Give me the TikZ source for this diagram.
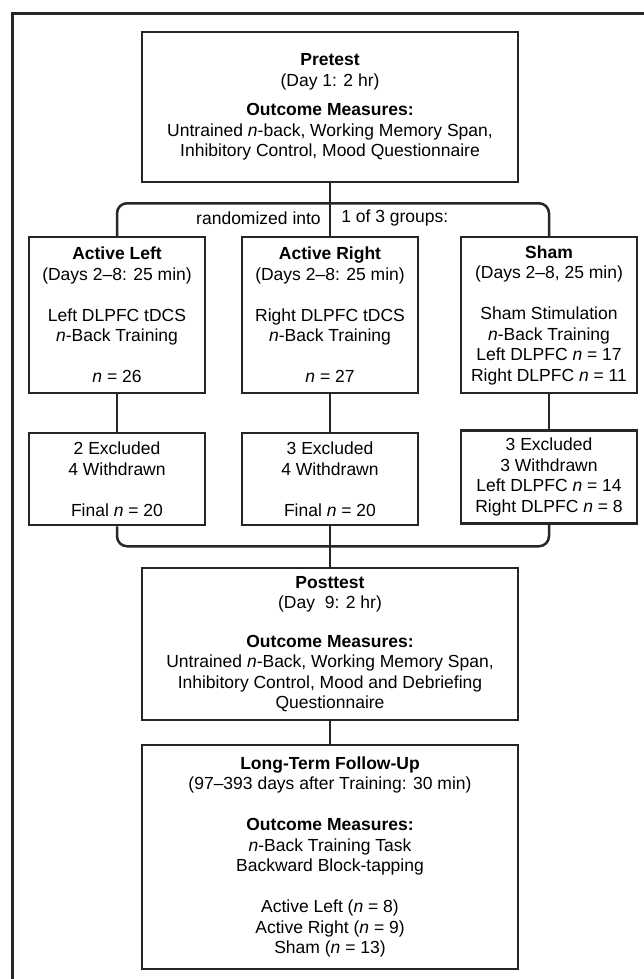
\documentclass[tikz,border=0pt]{standalone}
\usepackage{fontspec}
\setmainfont{Liberation Sans}
\usepackage{xcolor}
\usepackage{tikz}
\usetikzlibrary{positioning}

\tikzset{
  box/.style={draw=black!85, line width=2.5pt, align=center, inner sep=0pt,
    font=\fontsize{17.5}{20.5}\selectfont},
  bigbox/.style={box, minimum width=376pt},
  grpbox/.style={box, minimum width=176pt},
  lbl/.style={inner sep=0pt, font=\fontsize{17.5}{20.5}\selectfont},
}

\begin{document}
\begin{tikzpicture}[x=1pt, y=-1pt, on grid, line width=2.5pt, draw=black!85]
        \useasboundingbox (0,0) rectangle (644,979);
        \draw[line width=3pt] (12,979) -- (12,14) -- (644,14);

        \node[bigbox, minimum height=150pt] (pre) at (330,107)
          {\textbf{Pretest}\\(Day 1: 2 hr)\\[9pt]\textbf{Outcome Measures:}\\
           Untrained \textit{n}-back, Working Memory Span,\\Inhibitory Control, Mood Questionnaire};
        \node[grpbox, minimum height=156pt] (ar) [below=208pt of pre]
          {\textbf{Active Right}\\(Days 2–8: 25 min)\\[20.5pt]Right DLPFC tDCS\\
           \textit{n}-Back Training\\[20.5pt]\textit{n} = 27};
        \node[grpbox, minimum height=156pt] (al) [left=213pt of ar]
          {\textbf{Active Left}\\(Days 2–8: 25 min)\\[20.5pt]Left DLPFC tDCS\\
           \textit{n}-Back Training\\[20.5pt]\textit{n} = 26};
        \node[grpbox, minimum height=156pt] (sh) [right=219pt of ar]
          {\textbf{Sham}\\(Days 2–8, 25 min)\\[20.5pt]Sham Stimulation\\
           \textit{n}-Back Training\\Left DLPFC \textit{n} = 17\\Right DLPFC \textit{n} = 11};

        \node[grpbox, minimum height=92pt] (alx) [below=164pt of al]
          {2 Excluded\\4 Withdrawn\\[20.5pt]Final \textit{n} = 20};
        \node[grpbox, minimum height=92pt] (arx) [below=164pt of ar]
          {3 Excluded\\4 Withdrawn\\[20.5pt]Final \textit{n} = 20};
        \node[grpbox, minimum height=93pt] (shx) [below=162pt of sh]
          {3 Excluded\\3 Withdrawn\\Left DLPFC \textit{n} = 14\\Right DLPFC \textit{n} = 8};

        \node[bigbox, minimum height=152pt] (post) [below=165pt of arx]
          {\textbf{Posttest}\\(Day~ 9: 2 hr)\\[18pt]\textbf{Outcome Measures:}\\
           Untrained \textit{n}-Back, Working Memory Span,\\
           Inhibitory Control, Mood and Debriefing\\Questionnaire};
        \node[bigbox, minimum height=224pt, line width=2.1pt] (ltfu) [below=213pt of post]
          {\textbf{Long-Term Follow-Up}\\(97–393 days after Training: 30 min)\\[20.5pt]
           \textbf{Outcome Measures:}\\\textit{n}-Back Training Task\\Backward Block-tapping\\[20.5pt]
           Active Left (\textit{n} = 8)\\Active Right (\textit{n} = 9)\\Sham (\textit{n} = 13)};

        \path (pre.south) ++(0,20) coordinate (split);
        \path (arx.south) ++(0,20) coordinate (merge);

        \node[lbl, anchor=east] (rnd) at (322,218) {randomized into};
        \node[lbl, anchor=west] (grp) at (340,218) {1 of 3 groups:};

        \draw (pre) -- (ar);
        \draw[rounded corners=10pt] (al.north) |- (split) -| (sh.north);
        \draw (al) -- (alx);
        \draw (ar) -- (arx);
        \draw (sh) -- (shx);
        \draw[rounded corners=10pt] (alx.south) |- (merge) -| (shx.south);
        \draw (arx) -- (post);
        \draw (post) -- (ltfu);
\end{tikzpicture}
\end{document}
